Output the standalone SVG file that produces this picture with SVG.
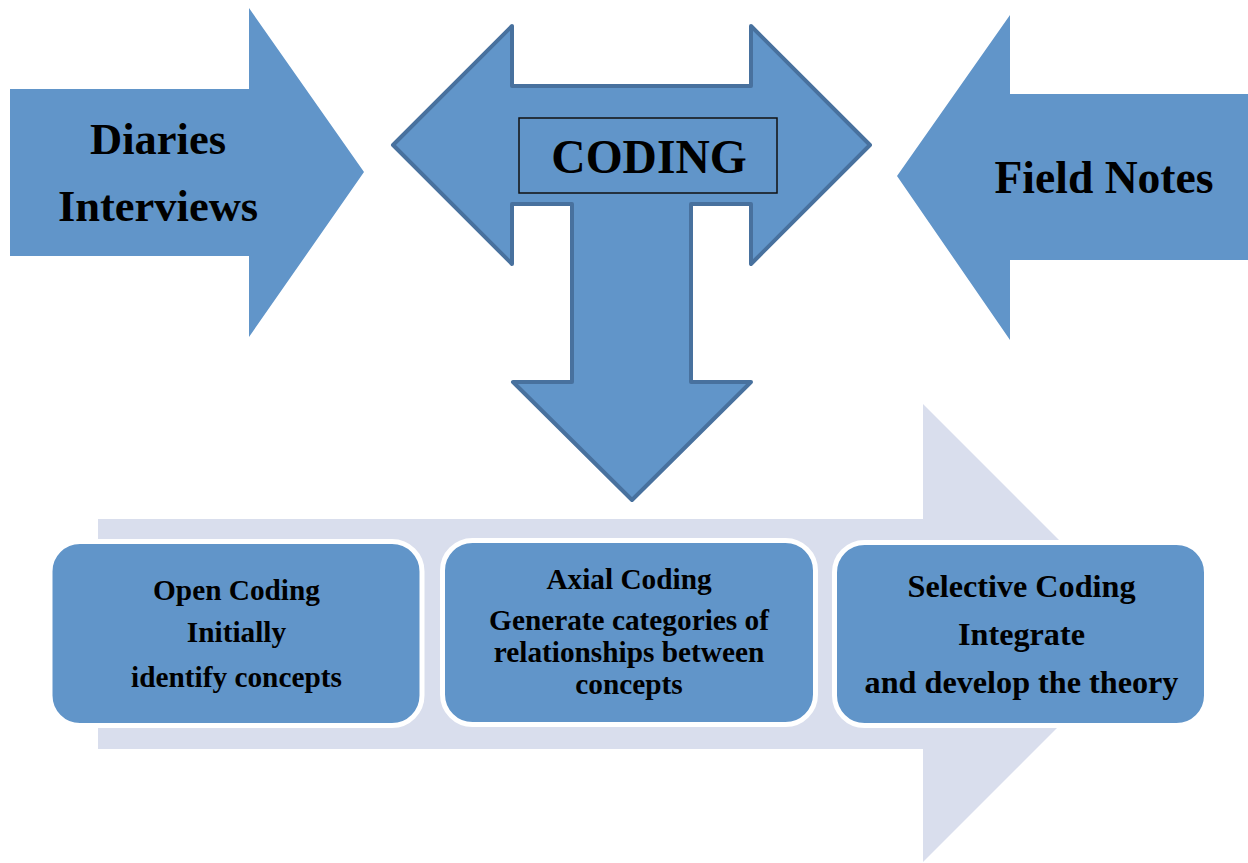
<svg xmlns="http://www.w3.org/2000/svg" width="1248" height="863" viewBox="0 0 1248 863">
<style>
.blue{fill:#6195c9}
.tstroke{stroke:#48719e;stroke-width:4;stroke-linejoin:round}
.box{fill:#6195c9;stroke:#ffffff;stroke-width:5}
.t{font-family:"Liberation Serif","Times New Roman",serif;font-weight:bold;fill:#000;text-anchor:middle}
.big{font-size:44.5px}
.small{font-size:29.3px}
.sel{font-size:32.2px}
</style>
<rect width="1248" height="863" fill="#ffffff"/>
<g id="flow-arrow">
<polygon points="98,519 923,519 923,404 1152,633 923,862 923,749 98,749" fill="#d9deed"/>
</g>
<g id="diaries">
<polygon class="blue" points="10,89 249,89 249,8 364,172 249,337 249,256 10,256"/>
<text class="t big" x="158" y="154">Diaries</text>
<text class="t big" x="158" y="221">Interviews</text>
</g>
<g id="fieldnotes">
<polygon class="blue" points="1248,94 1010,94 1010,15 897,176 1010,340 1010,260 1248,260"/>
<text class="t" x="1104" y="193" font-size="45.6">Field Notes</text>
</g>
<g id="coding">
<polygon class="blue tstroke" points="393,145 512,26 512,86 751,86 751,26 870,145 751,264 751,204 691,204 691,382 751,382 632,500 513,382 572,382 572,204 512,204 512,264"/>
<rect x="519" y="118" width="258" height="75" fill="none" stroke="#111111" stroke-width="1.5"/>
<text class="t" x="649" y="173" font-size="47.5">CODING</text>
</g>
<g id="open">
<rect class="box" x="50" y="541.5" width="372" height="184" rx="30"/>
<text class="t small" x="236.5" y="600" font-size="29.6">Open Coding</text>
<text class="t small" x="236.5" y="642" font-size="29.6">Initially</text>
<text class="t small" x="236.5" y="687" font-size="29.6">identify concepts</text>
</g>
<g id="axial">
<rect class="box" x="442.5" y="540.5" width="373" height="184" rx="30"/>
<text class="t small" x="629" y="589">Axial Coding</text>
<text class="t small" x="629" y="630">Generate categories of</text>
<text class="t small" x="629" y="662">relationships between</text>
<text class="t small" x="629" y="694">concepts</text>
</g>
<g id="selective">
<rect class="box" x="834.5" y="542.5" width="372" height="183" rx="30"/>
<text class="t sel" x="1021.5" y="597">Selective Coding</text>
<text class="t sel" x="1021.5" y="645">Integrate</text>
<text class="t sel" x="1021.5" y="693">and develop the theory</text>
</g>
<g id="connectors"></g>
</svg>
